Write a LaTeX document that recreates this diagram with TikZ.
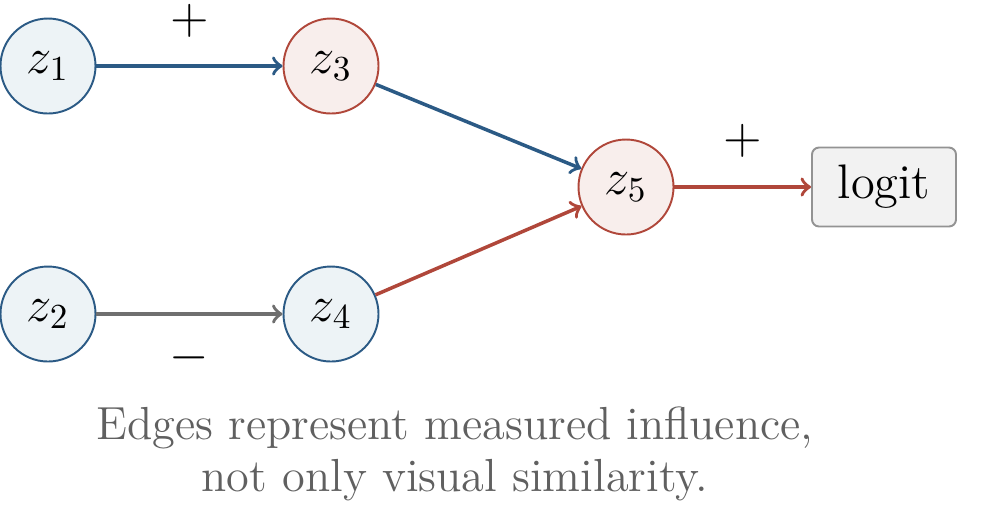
\documentclass[tikz,border=0pt]{standalone}
\usepackage{amsmath, tikz, xcolor}
\usetikzlibrary{arrows.meta, calc}

\definecolor{infblue}{HTML}{2B5A85}
\definecolor{infred}{HTML}{B0473A}
\definecolor{infgray}{HTML}{6F6F6F}
\definecolor{fillblue}{HTML}{EDF3F6}
\definecolor{fillred}{HTML}{F8EEEC}

\tikzset{
  unitblue/.style={circle, draw=infblue, fill=fillblue, line width=0.55pt, minimum size=0.95cm, inner sep=0pt, font=\fontsize{13.8}{16}\selectfont},
  unitred/.style={circle, draw=infred, fill=fillred, line width=0.55pt, minimum size=0.95cm, inner sep=0pt, font=\fontsize{13.8}{16}\selectfont},
  outbox/.style={draw=gray!85, fill=gray!10, rounded corners=2pt, line width=0.55pt, minimum width=1.44cm, minimum height=0.79cm, font=\fontsize{13.8}{16}\selectfont},
  edge/.style={->, >=to, line width=1pt},
  sign/.style={text=black, font=\fontsize{13.5}{15}\selectfont, inner sep=0pt}
}

\begin{document}
\begin{tikzpicture}
\useasboundingbox (0,0) rectangle (9.85,-5.04);
\node[unitblue] (z1) at (0.48,-0.66) {$z_1$};
\node[unitblue] (z2) at (0.48,-3.14) {$z_2$};
\node[unitred]  (z3) at (3.31,-0.66) {$z_3$};
\node[unitblue] (z4) at (3.31,-3.14) {$z_4$};
\node[unitred]  (z5) at (6.26,-1.87) {$z_5$};
\node[outbox] (logit) at (8.84,-1.87) {logit};
\draw[edge, color=infblue] (z1) -- node[sign, yshift=0.45cm] {$+$} (z3);
\draw[edge, color=infgray] (z2) -- node[sign, yshift=-0.44cm] {$-$} (z4);
\draw[edge, color=infblue] (z3) -- (z5);
\draw[edge, color=infred] (z4) -- (z5);
\draw[edge, color=infred] (z5) -- node[sign, yshift=0.46cm] {$+$} (logit);
\node[align=center, text=gray!75!black, font=\fontsize{13.2}{15}\selectfont] (note) at (4.55,-4.54) {Edges represent measured influence,\\not only visual similarity.};
\end{tikzpicture}
\end{document}
